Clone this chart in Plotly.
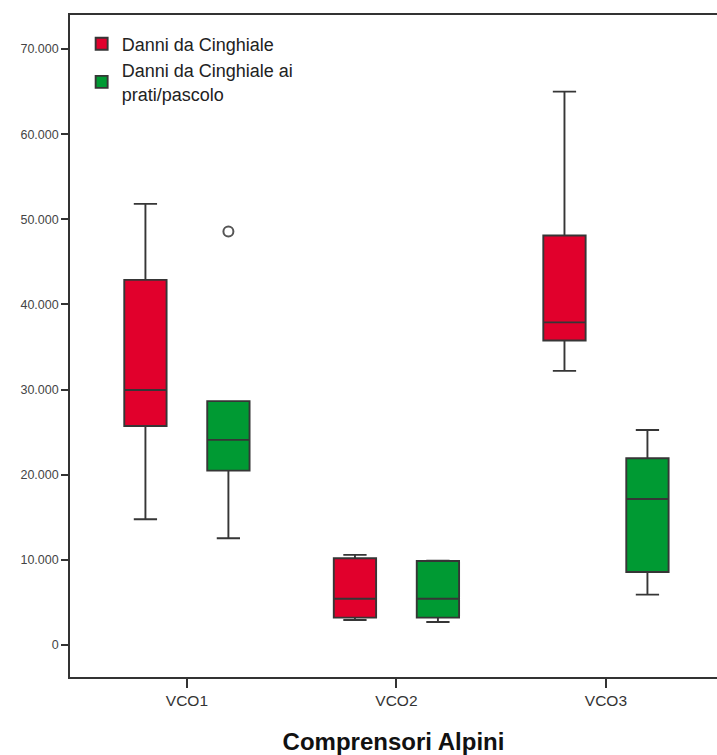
import plotly.graph_objects as go

categories = ["VCO1", "VCO2", "VCO3"]

# Danni da Cinghiale (red)
red_q1 = [25730, 3210, 35760]
red_median = [29960, 5440, 37900]
red_q3 = [42890, 10190, 48100]
red_lower = [14770, 2940, 32200]
red_upper = [51820, 10580, 65000]

# Danni da Cinghiale ai prati/pascolo (green)
green_q1 = [20480, 3210, 8580]
green_median = [24090, 5440, 17150]
green_q3 = [28640, 9870, 21940]
green_lower = [12540, 2700, 5920]
green_upper = [28640, 9900, 25260]
green_outliers = [[48570], [], []]

tick_vals = [0, 10000, 20000, 30000, 40000, 50000, 60000, 70000]

fig = go.Figure()
fig.add_trace(go.Box(
    name="Danni da Cinghiale",
    x=categories,
    q1=red_q1, median=red_median, q3=red_q3,
    lowerfence=red_lower, upperfence=red_upper,
    fillcolor="#E1002C",
    line=dict(color="#363636", width=1.9),
    whiskerwidth=0.55,
    boxpoints=False,
))
fig.add_trace(go.Box(
    name="Danni da Cinghiale ai<br>prati/pascolo",
    x=categories,
    y=green_outliers,
    q1=green_q1, median=green_median, q3=green_q3,
    lowerfence=green_lower, upperfence=green_upper,
    fillcolor="#009A33",
    line=dict(color="#363636", width=1.9),
    whiskerwidth=0.55,
    boxpoints="outliers",
    jitter=0, pointpos=0,
    marker=dict(symbol="circle-open", size=10, color="#555555",
                line=dict(width=2, color="#555555")),
))

fig.update_layout(
    width=717, height=755,
    margin=dict(l=70, r=0, t=15, b=78),
    paper_bgcolor="white", plot_bgcolor="white",
    boxmode="group", boxgap=0.208, boxgroupgap=0.49,
    separators=",.",
    font=dict(family="Liberation Sans, Arial, sans-serif", color="#222222"),
    legend=dict(x=0.018, y=0.984, xanchor="left", yanchor="top",
                bgcolor="rgba(0,0,0,0)", font=dict(size=18, color="#222222"),
                tracegroupgap=0, itemwidth=30),
    showlegend=True,
)
fig.update_xaxes(
    type="category", range=[-0.558, 2.53],
    showline=True, linecolor="#333333", linewidth=1.6, mirror=True,
    ticks="outside", ticklen=9, tickcolor="#333333", tickwidth=1.5,
    showgrid=False, zeroline=False,
    tickfont=dict(size=15.5, color="#333333"),
    title=dict(text="<b>Comprensori Alpini</b>", font=dict(size=24, color="#111111"), standoff=30),
)
fig.update_yaxes(
    range=[-3760, 74000],
    tickvals=tick_vals, tickformat=",d",
    showline=True, linecolor="#333333", linewidth=1.6,
    ticks="outside", ticklen=7, tickcolor="#333333", tickwidth=1.5,
    showgrid=False, zeroline=False,
    tickfont=dict(size=12.5, color="#444444"),
)

page_fix = ("document.body.style.margin='0';"
            "document.body.style.overflow='hidden';"
            "document.documentElement.style.overflow='hidden';")

fig.write_html("out.html", post_script=page_fix, config={"displayModeBar": False})
